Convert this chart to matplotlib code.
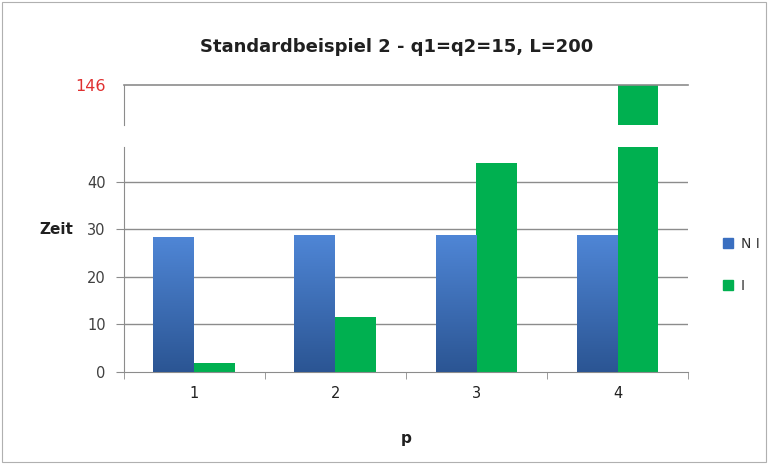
import numpy as np
import matplotlib.pyplot as plt
from matplotlib.patches import Rectangle

# values
p = ["1", "2", "3", "4"]
ni = [28.3, 28.7, 28.7, 28.7]
i_vals = [1.9, 11.5, 44.0, 146.0]

blue_top = "#4f86d6"
blue_bottom = "#2b5593"
green = "#00b050"
grid_col = "#8c8c8c"
txt_col = "#404040"

fig = plt.figure(figsize=(7.68, 4.65), dpi=100)
fig.patches.append(Rectangle((0.003, 0.006), 0.994, 0.99, transform=fig.transFigure,
                             fill=False, edgecolor="#b0b0b0", linewidth=0.8))

ax_lo = fig.add_axes([0.161, 0.2, 0.735, 0.484])
ax_hi = fig.add_axes([0.161, 0.731, 0.735, 0.086])

x = np.arange(len(p))
w = 0.29
lo_lim = (0, 47.3)
hi_lim = (146 - 8.3, 146)

grad = np.linspace(0, 1, 256).reshape(-1, 1)
cmap = plt.matplotlib.colors.LinearSegmentedColormap.from_list("b", [blue_bottom, blue_top])

for ax, lim in [(ax_lo, lo_lim), (ax_hi, hi_lim)]:
    bars_ni = ax.bar(x - w / 2, ni, w, color=blue_top, zorder=2)
    ax.bar(x + w / 2, i_vals, w, color=green, zorder=2)
    # gradient fill for the NI bars
    for b in bars_ni:
        bx, by = b.get_x(), b.get_y()
        im = ax.imshow(grad, cmap=cmap, aspect="auto", origin="lower",
                       extent=(bx, bx + b.get_width(), by, by + b.get_height()), zorder=3)
        im.set_clip_path(b)
    ax.set_xlim(-0.5, len(p) - 0.5)
    ax.set_ylim(*lim)
    for s in ["top", "right"]:
        ax.spines[s].set_visible(False)
    ax.spines["left"].set_color(grid_col)
    ax.spines["bottom"].set_color(grid_col)
    ax.tick_params(axis="y", colors=grid_col, labelcolor=txt_col, labelsize=10.5,
                   length=6, pad=7)

ax_lo.set_yticks([0, 10, 20, 30, 40])
for v in [10, 20, 30, 40]:
    ax_lo.axhline(v, color=grid_col, linewidth=1, zorder=1)
ax_lo.set_xticks(x)
ax_lo.set_xticklabels(p)
ax_lo.set_xticks(np.arange(-0.5, len(p)), minor=True)
ax_lo.tick_params(axis="x", which="major", length=0, labelsize=10.5, labelcolor="#202020", pad=10)
ax_lo.tick_params(axis="x", which="minor", length=5, color=grid_col)
ax_lo.set_xlabel("p", fontsize=11, fontweight="bold", color="#202020", labelpad=22)
ax_lo.set_ylabel("Zeit", fontsize=11, fontweight="bold", color="#202020", rotation=0)
ax_lo.yaxis.set_label_coords(-0.12, 0.6)

ax_hi.spines["bottom"].set_visible(False)
ax_hi.set_xticks([])
ax_hi.set_yticks([146])
ax_hi.tick_params(axis="y", labelcolor="#e03030", labelsize=11.5, length=0, pad=13)
ax_hi.axhline(146, color=grid_col, linewidth=1.2, zorder=4, clip_on=False)

fig.text(0.517, 0.888, "Standardbeispiel 2 - q1=q2=15, L=200", ha="center",
         fontsize=13, fontweight="bold", color="#202020")

# legend
handles = [Rectangle((0, 0), 1, 1, color="#3a6fc0"), Rectangle((0, 0), 1, 1, color=green)]
fig.legend(handles, ["N I", "I"], loc="center left", bbox_to_anchor=(0.925, 0.43),
           frameon=False, handlelength=0.7, handleheight=0.7, labelspacing=2.0,
           handletextpad=0.6, fontsize=10, labelcolor="#303030")

fig.savefig("out.png", dpi=100)
plt.close(fig)
